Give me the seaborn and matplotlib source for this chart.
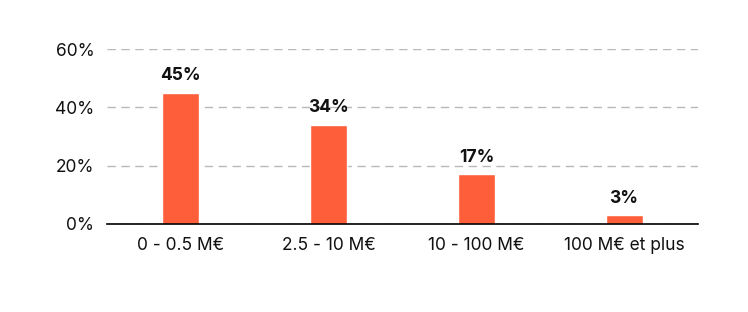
import matplotlib
matplotlib.use("Agg")
import matplotlib.pyplot as plt
import seaborn as sns
import pandas as pd

categories = ["0 - 0.5 M€", "2.5 - 10 M€", "10 - 100 M€", "100 M€ et plus"]
values = [45, 34, 17, 3]
yticks = [0, 20, 40, 60]

sns.set_theme(style="white")
plt.rcParams['font.family'] = ['Inter', 'DejaVu Sans']

df = pd.DataFrame({"cat": categories, "val": values})

fig = plt.figure(figsize=(7.48, 3.12), dpi=100)
ax = fig.add_axes([107/748, 1-224/312, (698-107)/748, (224-49)/312])
sns.barplot(data=df, x="cat", y="val", color="#FF5E3A", width=0.25, ax=ax, saturation=1)
ax.set_ylim(0, 60)
ax.set_xlim(-0.5, 3.5)
ax.set_yticks(yticks)
ax.set_yticklabels([f"{t}%" for t in yticks])
ax.yaxis.grid(True, linestyle=(0, (6, 4)), color="#b8b8b8", linewidth=1)
ax.set_axisbelow(True)
for s in ["top", "right", "left"]:
    ax.spines[s].set_visible(False)
ax.spines["bottom"].set_color("black")
ax.spines["bottom"].set_linewidth(1.2)
ax.set_xlabel("")
ax.set_ylabel("")
ax.tick_params(axis="both", length=0, labelsize=12.5, colors="#111111")
ax.tick_params(axis="x", pad=9)
ax.tick_params(axis="y", pad=9)
for i, v in enumerate(values):
    ax.annotate(f"{v}%", (i, v), xytext=(0, 6), textcoords="offset points",
                ha="center", va="bottom", fontsize=12.5, fontweight="bold", color="#111111")
fig.savefig("out.png", dpi=100)
